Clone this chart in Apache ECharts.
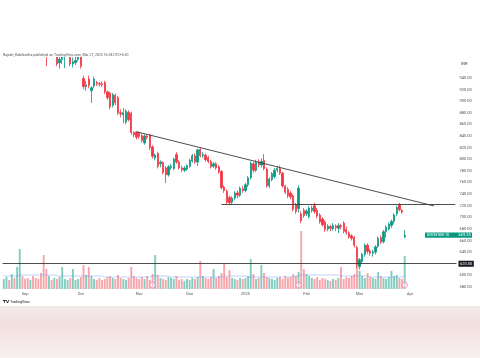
<!DOCTYPE html>
<html><head><meta charset="utf-8">
<script src="https://cdn.jsdelivr.net/npm/echarts@6/dist/echarts.min.js"></script>
<style>html,body{margin:0;padding:0;background:#fff;}#c{width:480px;height:358px;}</style>
</head><body><div id="c"></div>
<script>
// trading days (NSE) shown on the chart
const aug24=[21,22,23,26,27,28,29,30];
const sep24=[2,3,4,5,6,9,10,11,12,13,16,17,18,19,20,23,24,25,26,27,30];
const oct24=[1,3,4,7,8,9,10,11,14,15,16,17,18,21,22,23,24,25,28,29,30,31];
const nov24=[1,4,5,6,7,8,11,12,13,14,18,19,21,22,25,26,27,28,29];
const dec24=[2,3,4,5,6,9,10,11,12,13,16,17,18,19,20,23,24,26,27,30,31];
const jan25=[1,2,3,6,7,8,9,10,13,14,15,16,17,20,21,22,23,24,27,28,29,30,31];
const feb25=[1,3,4,5,6,7,10,11,12,13,14,17,18,19,20,21,24,25,27,28];
const mar25=[3,4,5,6,7,10,11,12,13,17,18,19,20,21,24,25,26,27];
const futureDays=['2025-03-28','2025-04-01','2025-04-02','2025-04-03','2025-04-04','2025-04-07','2025-04-08','2025-04-09','2025-04-10','2025-04-11','2025-04-14','2025-04-15','2025-04-16','2025-04-17','2025-04-18','2025-04-21','2025-04-22','2025-04-23','2025-04-24'];
const monthTickLabels=[['2024-09-02','Sep'],['2024-10-01','Oct'],['2024-11-01','Nov'],['2024-12-02','Dec'],['2025-01-01','2025'],['2025-02-01','Feb'],['2025-03-03','Mar'],['2025-04-01','Apr']];
const priceTicks=[580,600,620,640,660,680,700,720,740,760,780,800,820,840,860,880,900,920,940];

const openP=[1005,1015,1022,1018,1030,1026,1034,1040,1036,1028,1020,1025,1012,1004,998,992,
990,982,990,985,986,966,972,980,984,990,964,966,972,988,
939,925,938,918,926,932,930,930,932,916,914,893,910,906,880,876,864,881,879,846,847,845,
841,828,840,842,821,802,810,792,794,785,773,786,784,808,795,785,781,783,788,
797,806,795,817,806,807,803,796,788,792,787,779,752,745,734,726,733,742,738,749,
746,756,768,792,781,795,790,798,783,754,765,770,781,784,776,754,748,742,737,722,715,706,712,
706,701,712,720,712,704,697,692,680,684,680,685,681,686,690,679,673,668,665,648,
615,624,636,652,642,638,640,650,665,658,675,680,686,693,706,722,712,666];
const closeP=[1015,1022,1018,1030,1026,1034,1040,1036,1028,1020,1025,1012,1004,998,992,988,
982,990,985,988,964,972,980,984,988,964,968,970,982,960,
925,928,927,923,938,930,929,928,916,906,890,911,897,880,878,880,883,868,846,842,838,839,
832,840,838,820,805,807,788,795,777,773,787,788,800,795,785,782,785,789,798,
806,795,816,806,808,799,796,787,792,785,778,751,746,726,725,733,742,738,750,746,
756,768,793,781,795,790,796,784,754,766,775,781,784,776,754,743,737,735,714,710,750,694,703,
711,716,716,710,702,692,687,679,685,681,686,682,686,684,676,674,666,664,652,619,
627,636,652,641,638,640,649,664,657,675,683,688,693,704,717,713,709,669];
const lowP=[998,1008,1012,1010,1020,1018,1025,1030,1026,1018,1012,1008,1000,994,986,982,
960,978,979,980,960,956,964,957,978,960,958,962,968,956,
920,918,922,897,922,926,925,924,912,902,886,889,893,876,872,862,860,865,842,838,834,835,
829,825,834,816,801,798,784,786,774,759,770,782,781,792,782,778,778,780,785,
794,792,788,803,802,796,793,784,785,782,775,748,742,722,721,722,729,733,735,742,
743,752,765,777,778,786,786,781,751,750,762,767,777,773,751,740,733,731,710,706,708,690,699,
702,698,708,706,698,689,684,675,676,676,677,676,673,679,672,670,663,660,648,613,
610,620,632,637,634,632,636,647,654,655,665,677,682,688,702,710,706,664];
const highP=[1018,1028,1026,1034,1035,1040,1046,1044,1040,1030,1030,1028,1016,1008,1002,996,
995,996,998,994,990,976,986,990,994,994,975,978,990,995,
944,935,944,926,942,935,933,934,935,918,916,914,913,909,886,888,886,884,882,848,847,847,
844,843,843,842,824,810,813,798,797,788,790,792,803,812,798,789,788,791,801,
809,810,818,820,812,810,806,799,795,795,790,781,755,748,737,736,745,746,753,754,
759,771,796,796,799,800,801,809,786,769,778,785,788,789,778,756,752,745,740,725,755,710,716,
714,719,720,725,716,707,700,695,688,687,690,688,690,689,693,684,676,671,668,651,
630,639,655,655,646,644,652,667,669,678,686,691,696,707,720,725,714,678];
const volume=[10,12,9,15,11,22,40,13,10,11,9,13,11,10,16,34,
20,13,9,11,10,12,22,10,9,11,20,9,10,12,
24,14,22,13,10,9,11,9,10,12,13,11,10,14,11,10,9,11,22,13,11,10,
12,10,13,9,15,34,14,11,10,9,12,11,10,13,9,10,8,10,9,
11,10,12,28,13,11,10,12,20,11,13,16,26,12,19,11,10,9,11,10,
11,13,30,15,10,11,24,16,12,11,10,9,11,12,10,13,11,12,15,13,17,58,20,
15,13,11,10,12,9,11,10,9,8,10,9,11,22,10,12,11,13,15,26,
18,13,11,16,12,11,10,17,13,11,10,12,18,13,14,11,10,33];
const volumeMA=[13,13,13,13,13,13,14,14,14,14,14,14,14,14,14,14,14,14,14,14,13,13,13,13,13,13,13,13,13,13,
13,13,13,13,13,13,13,13,12,12,12,12,12,12,12,12,12,12,12,12,12,12,12,12,12,12,13,13,13,13,
13,13,13,12,12,12,12,12,12,12,12,12,12,12,12,12,12,12,12,12,12,12,12,13,13,13,13,13,13,13,
13,13,12,12,12,12,12,12,12,12,12,12,12,12,12,12,12,12,12,12,13,13,14,14,14,14,14,14,14,14,
14,14,14,14,14,14,14,13,13,13,13,13,13,13,13,13,13,13,12,12,12,12,12,12,12,12,12,12,12,12,12,13];
const earningsIdx=[56,111,151];
const trendStart=[50,847.3], trendEnd=[162,719.5];
const resistStart=[82,722], resistEnd=[170,722];
const supportLevel=620;
const lastPrice=669.35;

const pad=n=>(n<10?'0':'')+n;
const categories=[].concat(
  aug24.map(d=>'2024-08-'+pad(d)), sep24.map(d=>'2024-09-'+pad(d)), oct24.map(d=>'2024-10-'+pad(d)),
  nov24.map(d=>'2024-11-'+pad(d)), dec24.map(d=>'2024-12-'+pad(d)), jan25.map(d=>'2025-01-'+pad(d)),
  feb25.map(d=>'2025-02-'+pad(d)), mar25.map(d=>'2025-03-'+pad(d)), futureDays);
const labelMap={}; monthTickLabels.forEach(m=>labelMap[m[0]]=m[1]);

const UP='#089981', DOWN='#f23645';
const candle=openP.map((o,i)=>[o,closeP[i],lowP[i],highP[i]]);
const volData=volume.map((v,i)=>({value:v,itemStyle:{color:closeP[i]>=openP[i]?'rgba(8,153,129,0.5)':'rgba(242,54,69,0.45)'}}));

const FONT='Roboto';
const chart=echarts.init(document.getElementById('c'),null,{renderer:'canvas'});
const gridL=2.5, gridR=23.5, gridTop=57;
chart.setOption({
  animation:false,
  backgroundColor:'#ffffff',
  grid:[{left:gridL,right:gridR,top:gridTop,bottom:69},{left:gridL,right:gridR,top:229,bottom:69}],
  xAxis:[{type:'category',data:categories,gridIndex:0,boundaryGap:true,
    axisLine:{show:false},axisTick:{show:false},splitLine:{show:false},
    axisLabel:{interval:(i,v)=>labelMap[v]!==undefined,formatter:v=>labelMap[v]||'',color:'#555',fontSize:4,fontFamily:FONT,margin:2.5}},
    {type:'category',data:categories,gridIndex:1,boundaryGap:true,show:false}],
  yAxis:[{type:'value',gridIndex:0,position:'right',min:576.5,max:976,scale:true,
    axisLine:{show:false},axisTick:{show:false},splitLine:{show:false},
    axisLabel:{customValues:priceTicks,formatter:v=>v.toFixed(2),color:'#555',fontSize:4,fontFamily:FONT,margin:3}},
    {type:'value',gridIndex:1,min:0,max:60,show:false}],
  series:[
    {type:'bar',xAxisIndex:1,yAxisIndex:1,data:volData,barWidth:'72%',z:1},
    {type:'line',xAxisIndex:1,yAxisIndex:1,data:volumeMA,symbol:'none',lineStyle:{color:'rgba(100,149,237,0.6)',width:0.7},z:2},
    {type:'scatter',xAxisIndex:1,yAxisIndex:1,data:earningsIdx.map(i=>[i,4]),symbol:'circle',symbolSize:5.5,
      itemStyle:{color:'#fff',borderColor:'#ec6fa0',borderWidth:0.8},
      label:{show:true,position:'inside',formatter:'E',fontSize:3,color:'#ec6fa0',fontFamily:FONT},z:5},
    {type:'candlestick',xAxisIndex:0,yAxisIndex:0,data:candle,barWidth:'68%',clip:true,z:3,
      itemStyle:{color:UP,color0:DOWN,borderColor:UP,borderColor0:DOWN,borderWidth:0.8},
      markLine:{symbol:'none',silent:true,animation:false,
        data:[
          [{coord:trendStart,lineStyle:{color:'#3a3a3a',width:0.9,type:'solid'}},{coord:trendEnd}],
          [{coord:resistStart,lineStyle:{color:'#3a3a3a',width:0.9,type:'solid'}},{coord:resistEnd}],
          {yAxis:supportLevel,lineStyle:{color:'#3a3a3a',width:0.9,type:'solid'},
            label:{show:true,position:'end',distance:2,formatter:supportLevel.toFixed(2),color:'#fff',backgroundColor:'#131722',fontSize:4,padding:[1,1.5],fontFamily:FONT}}
        ],label:{show:false}}
    }
  ]
});
const yLast=chart.convertToPixel({yAxisIndex:0},lastPrice);
chart.setOption({graphic:[
  // mask above the price pane (clips candles that run off the top)
  {type:'rect',shape:{x:0,y:0,width:480,height:gridTop},style:{fill:'#ffffff'},z:50},
  {type:'text',left:3,top:53,style:{text:'Rajesh_Kabilsedha published on TradingView.com, Mar 27, 2025 16:38 UTC+5:30',fill:'#555',font:'3.5px '+FONT},z:60},
  {type:'text',left:461,top:62,style:{text:'INR',fill:'#444',font:'4px '+FONT},z:60},
  {type:'rect',shape:{x:425,y:yLast-2.6,width:47,height:5.2},style:{fill:UP},z:60},
  {type:'text',x:427,y:yLast,style:{text:'DIXON·NSE·1D',fill:'#fff',font:'3.4px '+FONT,textVerticalAlign:'middle'},z:61},
  {type:'text',x:458.5,y:yLast,style:{text:lastPrice.toFixed(2),fill:'#fff',font:'4px '+FONT,textVerticalAlign:'middle'},z:61},
  {type:'text',left:3,top:300,style:{text:'𝗧𝗩',fill:'#131722',font:'bold 4px '+FONT},z:60},
  {type:'text',left:10,top:300,style:{text:'TradingView',fill:'#131722',font:'3.6px '+FONT},z:60},
  {type:'rect',shape:{x:0,y:306,width:480,height:52},style:{fill:new echarts.graphic.LinearGradient(0,0,0,1,[{offset:0,color:'#f1eaea'},{offset:0.35,color:'#f3dede'},{offset:1,color:'#f7f1f1'}])},z:-1}
]});
</script></body></html>
